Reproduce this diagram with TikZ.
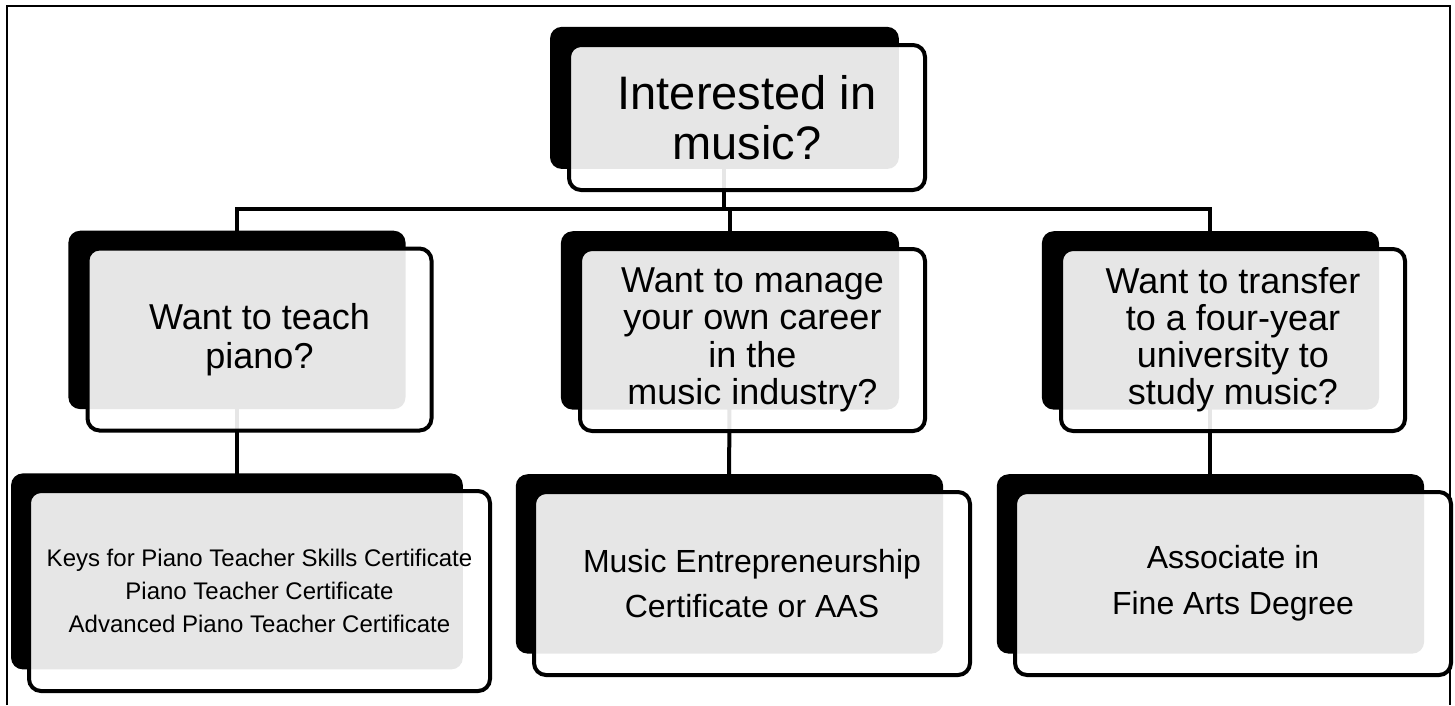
\documentclass[tikz,border=0pt]{standalone}
\usepackage{fontspec}
\setmainfont{Liberation Sans}
\usetikzlibrary{shadows,backgrounds}

\begin{document}
\begin{tikzpicture}[x=1pt,y=-1pt,
    card/.style={draw=black, line width=4pt, fill=white, fill opacity=0.9, text opacity=1,
      rounded corners=12pt, align=center, inner sep=0pt,
      general shadow={shadow xshift=-23pt, shadow yshift=20pt, shadow scale=0.98,
        fill=black, draw=none, opacity=1}},
    link/.style={line width=4pt, black}]
  \useasboundingbox (0,0) rectangle (1455,705);
  \draw[line width=2.2pt] (7,705) -- (7,6) -- (1450,6) -- (1450,705);

  \node[card, minimum width=356pt, minimum height=145pt,
        font=\fontsize{47}{50}\selectfont] (interest) at (747,117.5) {Interested in\\music?};

  \node[card, minimum width=344pt, minimum height=182pt,
        font=\fontsize{36}{39}\selectfont] (teach) at (259.5,339.5) {Want to teach\\piano?};
  \node[card, minimum width=345pt, minimum height=182pt,
        font=\fontsize{36}{37.5}\selectfont] (manage) at (752.5,340) {Want to manage\\your own career\\in the\\music industry?};
  \node[card, minimum width=344pt, minimum height=182pt,
        font=\fontsize{36}{37}\selectfont] (transfer) at (1233,340) {Want to transfer\\to a four-year\\university to\\study music?};

  \node[card, minimum width=461pt, minimum height=200pt,
        font=\fontsize{24}{33}\selectfont] (keys) at (259.5,591) {Keys for Piano Teacher Skills Certificate\\Piano Teacher Certificate\\Advanced Piano Teacher Certificate};
  \node[card, minimum width=436pt, minimum height=183pt,
        font=\fontsize{32}{45}\selectfont] (entre) at (752,583.5) {Music Entrepreneurship\\Certificate or AAS};
  \node[card, minimum width=436pt, minimum height=183pt,
        font=\fontsize{32}{46}\selectfont] (assoc) at (1233,583.5) {Associate in\\Fine Arts Degree};

  % connectors run through the centres of the black cards
  \foreach \n in {interest,teach,manage,transfer,keys,entre,assoc}
    \coordinate (\n-s) at ([xshift=-23pt,yshift=20pt]\n.center);
  \coordinate (bar) at (0,209);

  \begin{scope}[on background layer]
    \draw[link] (interest-s) -- (interest-s |- bar);
    \draw[link] (teach-s) |- (transfer-s |- bar) -- (transfer-s);
    \draw[link] (manage-s |- bar) -- (manage-s);
    \draw[link] (teach-s) -- (keys-s);
    \draw[link] (manage-s) -- (entre-s);
    \draw[link] (transfer-s) -- (assoc-s);
  \end{scope}
\end{tikzpicture}
\end{document}
